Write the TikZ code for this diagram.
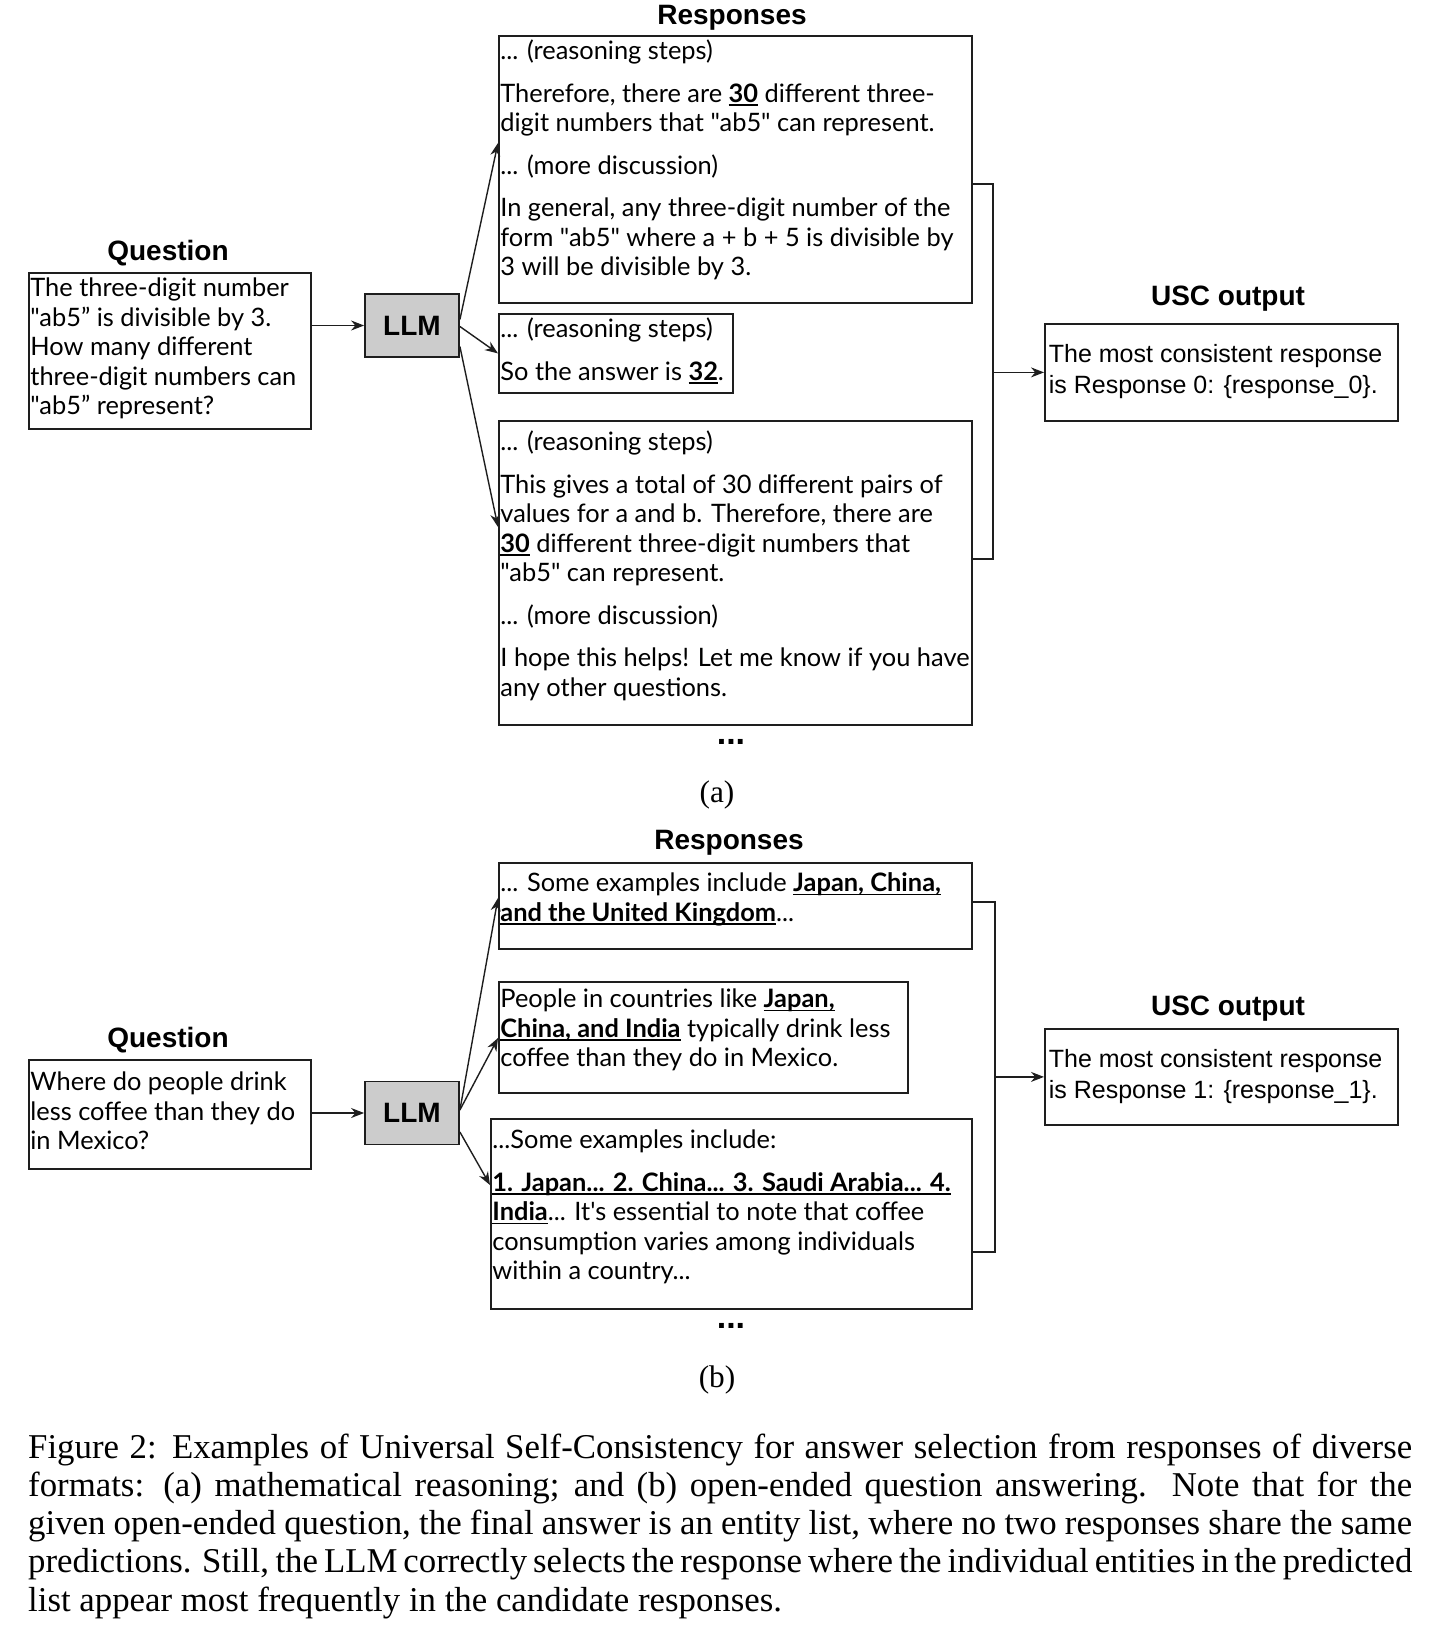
\documentclass[tikz,border=0pt]{standalone}
\usepackage{fontspec}
\setmainfont{Liberation Serif}
\newfontfamily\gsfont{Lato}
\newfontfamily\hvfont{Liberation Sans}
\usetikzlibrary{arrows.meta,calc}
\definecolor{llmgray}{RGB}{204,204,204}
\definecolor{edge}{RGB}{30,30,30}
\newcommand\uln[1]{\leavevmode\setbox0\hbox{#1}\rlap{\rule[-3.5pt]{\wd0}{1.5pt}}\box0\relax}
\newcommand\txt[4]{\parbox[c][#2pt][t]{#1pt}{\setlength\parskip{13pt}\rule{0pt}{#3pt}#4}}
\newcommand\jline[1]{\hbox to 1384pt{#1}}
\tikzset{
  box/.style={draw=edge, line width=1.8pt, inner xsep=1.5pt, inner ysep=0pt, anchor=north west,
    font=\gsfont\fontsize{25.4}{29.5}\selectfont},
  uscbox/.style={box, inner xsep=4pt, font=\hvfont\fontsize{25}{30.5}\selectfont},
  head/.style={inner sep=0pt, anchor=base, font=\hvfont\bfseries\fontsize{28}{30}\selectfont},
  llm/.style={draw=edge, line width=1.8pt, fill=llmgray, minimum width=94pt, minimum height=63pt,
    inner sep=0pt, font=\hvfont\bfseries\fontsize{28}{30}\selectfont},
  dots/.style={inner sep=0pt, font=\hvfont\bfseries\fontsize{34}{34}\selectfont},
  sub/.style={inner sep=0pt, font=\fontsize{31.3}{36}\selectfont},
  arr/.style={-{Stealth[length=13pt,width=10pt]}, line width=1.4pt, draw=edge},
  conn/.style={line width=1.4pt, draw=edge}
}
\begin{document}
\begin{tikzpicture}[x=1pt,y=-1pt]
\useasboundingbox (0,0) rectangle (1436,1625);

% ---------------- panel (a) ----------------
\node[head] (hqa) at (168,260) {Question};
\node[head] (hra) at (732,24) {Responses};
\node[head] (hua) at (1228,305) {USC output};

\node[box] (qa) at (28,272) {\txt{279}{156}{24}{The three-digit number\\"ab5” is divisible by 3.\\How many different\\three-digit numbers can\\"ab5” represent?}};
\node[llm] (lla) at (412,325.5) {LLM};

\node[box] (a1) at (498,35) {\txt{470}{267}{24}{... (reasoning steps)\par Therefore, there are \uln{\bfseries 30} different three-\\digit numbers that "ab5" can represent.\par ... (more discussion)\par In general, any three-digit number of the\\form "ab5" where a + b + 5 is divisible by\\3 will be divisible by 3.}};
\node[box] (a2) at (498,313) {\txt{231}{79}{24}{... (reasoning steps)\par So the answer is \uln{\bfseries 32}.}};
\node[box] (a3) at (498,420) {\txt{470}{304}{30}{... (reasoning steps)\par This gives a total of 30 different pairs of\\values for a and b. Therefore, there are\\\uln{\bfseries 30} different three-digit numbers that\\"ab5" can represent.\par ... (more discussion)\par I hope this helps! Let me know if you have\\any other questions.}};

\node[uscbox] (ua) at (1044,323) {\txt{345}{97}{39}{The most consistent response\\is Response 0: \{response\_0\}.}};

\node[dots] (da) at (731,742) {...};
\node[sub] (sa) at (717,795) {(a)};

\draw[arr] (qa.east |- lla.west) -- (lla.west);
\draw[arr] ($(lla.east)+(0,-6)$) -- ($(a1.north west)+(0,108)$);
\draw[arr] ($(lla.east)+(0,1)$) -- (a2.west);
\draw[arr] ($(lla.east)+(0,21)$) -- ($(a3.north west)+(0,107)$);

\coordinate (bra) at ($(a1.north east)+(20,149)$);
\draw[conn] ($(a1.north east)+(0,149)$) -- (bra) |- ($(a3.north east)+(0,139)$);
\draw[arr] (ua.west -| bra) -- (ua.west);

% ---------------- panel (b) ----------------
\node[head] (hqb) at (168,1047) {Question};
\node[head] (hrb) at (729,849) {Responses};
\node[head] (hub) at (1228,1015) {USC output};

\node[box] (qb) at (28,1059) {\txt{279}{109}{31}{Where do people drink\\less coffee than they do\\in Mexico?}};
\node[llm] (llb) at (412,1113) {LLM};

\node[box] (b1) at (498,862) {\txt{470}{86}{29}{... Some examples include \uln{\bfseries Japan, China,}\\\uln{\bfseries and the United Kingdom}...}};
\node[box] (b2) at (498,981) {\txt{406}{111}{26}{People in countries like \uln{\bfseries Japan,}\\\uln{\bfseries China, and India} typically drink less\\coffee than they do in Mexico.}};
\node[box] (b3) at (490,1118) {\txt{478}{190}{30}{...Some examples include:\par\uln{\bfseries 1. Japan... 2. China... 3. Saudi Arabia... 4.}\\\uln{\bfseries India}... It's essential to note that coffee\\consumption varies among individuals\\within a country...}};

\node[uscbox] (ub) at (1044,1028) {\txt{345}{96}{39}{The most consistent response\\is Response 1: \{response\_1\}.}};

\node[dots] (db) at (731,1326) {...};
\node[sub] (sb) at (717,1380) {(b)};

\draw[arr] (qb.east |- llb.west) -- (llb.west);
\draw[arr] ($(llb.east)+(0,-3)$) -- ($(b1.north west)+(0,36)$);
\draw[arr] ($(llb.east)+(0,-3)$) -- ($(b2.north west)+(0,57)$);
\draw[arr] ($(llb.east)+(0,19)$) -- ($(b3.north west)+(0,67)$);

\coordinate (brb) at ($(b1.north east)+(22,40)$);
\draw[conn] ($(b1.north east)+(0,40)$) -- (brb) |- ($(b3.north east)+(0,134)$);
\draw[arr] (ub.west -| brb) -- (ub.west);

% ---------------- caption ----------------
\node[inner sep=0pt, anchor=base west] (cap) at (28,1458) {\parbox[t]{1384pt}{\fontsize{34.8}{38.3}\selectfont
\jline{Figure 2: Examples of Universal Self-Consistency for answer selection from responses of diverse}
\jline{formats: (a) mathematical reasoning; and (b) open-ended question answering.\ \ Note that for the}
\jline{given open-ended question, the final answer is an entity list, where no two responses share the same}
\jline{predictions. Still, the LLM correctly selects the response where the individual entities in the predicted}
\hbox{list appear most frequently in the candidate responses.}}};
\end{tikzpicture}
\end{document}
